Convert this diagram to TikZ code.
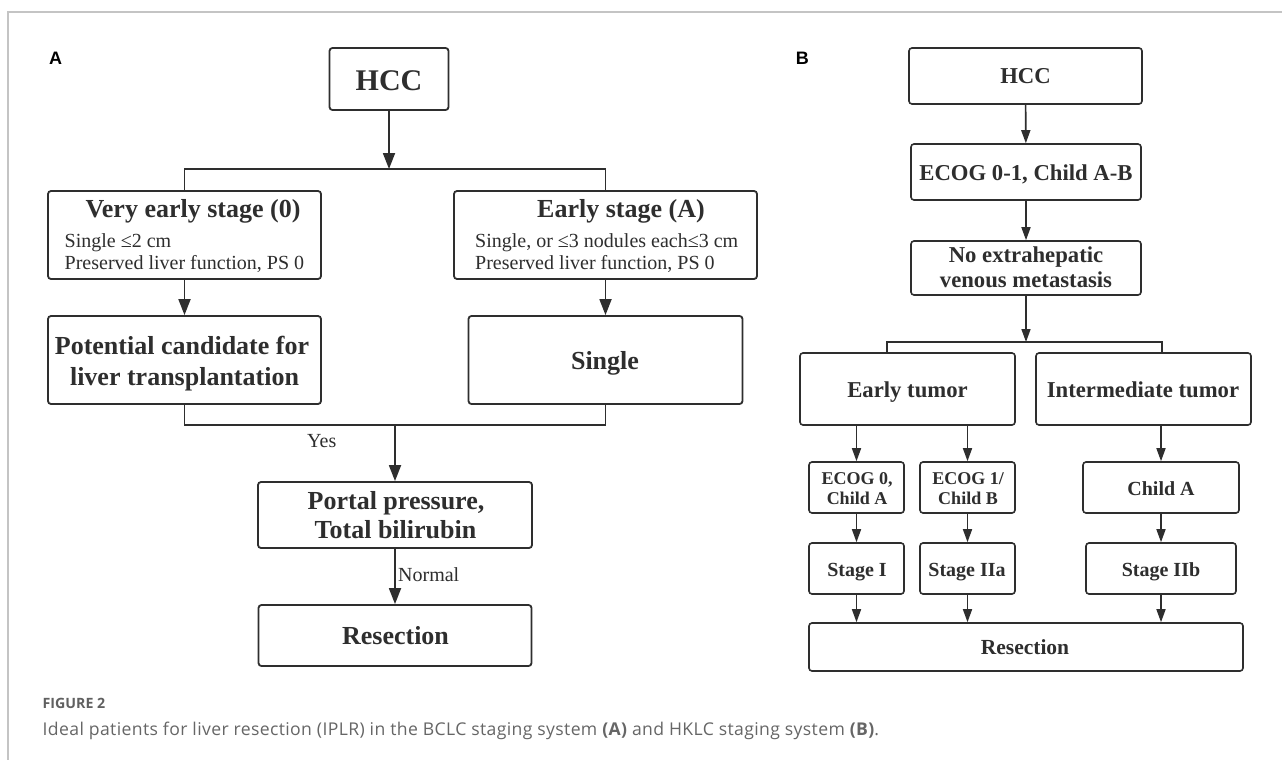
\documentclass[tikz,border=0pt]{standalone}
\usepackage{fontspec}
\setmainfont{Liberation Serif}
\newfontfamily\capfont[LetterSpace=2.1]{Open Sans}
\newfontfamily\figfont{Open Sans}
\newfontfamily\labfont{Liberation Sans}
\usetikzlibrary{arrows.meta}
\definecolor{ink}{HTML}{2E2E2E}
\definecolor{framegray}{HTML}{C4C4C4}
\definecolor{capgray}{HTML}{666666}
\definecolor{figgray}{HTML}{606060}
\begin{document}
\begin{tikzpicture}[x=1pt,y=-1pt,
  boxA/.style={draw=ink, line width=1.8pt, rounded corners=3pt, inner sep=0pt},
  boxB/.style={draw=ink, line width=1.6pt, rounded corners=3pt, inner sep=0pt},
  lnA/.style={draw=ink, line width=1.8pt},
  lnB/.style={draw=ink, line width=1.6pt},
  arrA/.style={lnA, -{Triangle[length=16pt,width=12pt]}},
  arrB/.style={lnB, -{Triangle[length=13pt,width=9pt]}},
  txt/.style={text=ink, inner sep=0pt, anchor=base},
  txtw/.style={text=ink, inner sep=0pt, anchor=base west},
  fA/.style={font=\fontsize{26}{31}\selectfont\bfseries},
  fAh/.style={font=\fontsize{30}{36}\selectfont\bfseries},
  fAs/.style={font=\fontsize{20}{24}\selectfont},
  fB/.style={font=\fontsize{22.7}{27}\selectfont\bfseries},
  fBs/.style={font=\fontsize{18}{22}\selectfont\bfseries},
  fBm/.style={font=\fontsize{20}{24}\selectfont\bfseries},
  panel/.style={inner sep=0pt, anchor=base west, font=\labfont\fontsize{18}{20}\selectfont\bfseries, text=black}
]
\useasboundingbox (0,0) rectangle (1282,760);
\fill[white] (0,0) rectangle (1282,760);
\draw[framegray, line width=1.5pt] (1282,12) -- (8,12) -- (8,760);

% ---------------- Panel A ----------------
\node[panel] (labA) at (49,65) {A};
\node[boxA, minimum width=119pt, minimum height=62pt] (hccA) at (389,79) {};
\node[boxA, minimum width=273pt, minimum height=88pt] (ves) at (184.5,235) {};
\node[boxA, minimum width=303pt, minimum height=88pt] (es) at (605.5,235) {};
\node[boxA, minimum width=273pt, minimum height=88pt] (pot) at (184.5,360) {};
\node[boxA, minimum width=274pt, minimum height=88pt] (sgl) at (605.5,360) {};
\node[boxA, minimum width=274pt, minimum height=66pt] (por) at (395,515) {};
\node[boxA, minimum width=273pt, minimum height=61pt] (resA) at (395,635.5) {};

\node[txt, fAh] (hccAt) at (389,90) {HCC};
\node[txt, fA] (vest) at (193,217) {Very early stage (0)};
\node[txtw, fAs] (ves1) at (64.5,247) {Single ≤2 cm};
\node[txtw, fAs] (ves2) at (64.5,269) {Preserved liver function, PS 0};
\node[txt, fA] (est) at (621,217) {Early stage (A)};
\node[txtw, fAs] (es1) at (475,247) {Single, or ≤3 nodules each≤3 cm};
\node[txtw, fAs] (es2) at (475,269) {Preserved liver function, PS 0};
\node[txt, fA] (pot1) at (182,354) {Potential candidate for};
\node[txt, fA] (pot2) at (184.5,385) {liver transplantation};
\node[txt, fA] (sglt) at (605,369) {Single};
\node[txt, fA] (por1) at (396,509) {Portal pressure,};
\node[txt, fA] (por2) at (395.5,538) {Total bilirubin};
\node[txt, fA] (resAt) at (395.5,644) {Resection};
\node[txtw, fAs] (yes) at (307,447) {Yes};
\node[txtw, fAs] (normal) at (398,581) {Normal};

\coordinate (jA) at (389,169);
\coordinate (jA2) at (395,425);
\draw[arrA] (hccA) -- (jA);
\draw[lnA] (ves.north) |- (jA) -| (es.north);
\draw[arrA] (ves) -- (pot);
\draw[arrA] (es) -- (sgl);
\draw[lnA] (pot.south) |- (jA2) -| (sgl.south);
\draw[arrA] (jA2) -- (por);
\draw[arrA] (por) -- (resA);

% ---------------- Panel B ----------------
\node[panel] (labB) at (795.6,65) {B};
\node[boxB, minimum width=233pt, minimum height=56pt] (hccB) at (1025.5,76) {};
\node[boxB, minimum width=230pt, minimum height=56pt] (ecog) at (1026,172) {};
\node[boxB, minimum width=230pt, minimum height=54pt] (noext) at (1026,268) {};
\node[boxB, minimum width=215pt, minimum height=72pt] (et) at (907.5,389) {};
\node[boxB, minimum width=215pt, minimum height=72pt] (it) at (1143.5,389) {};
\node[boxB, minimum width=95pt, minimum height=51pt] (e0) at (856.5,487.5) {};
\node[boxB, minimum width=95pt, minimum height=51pt] (e1) at (967.5,487.5) {};
\node[boxB, minimum width=156pt, minimum height=51pt] (ca) at (1161,487.5) {};
\node[boxB, minimum width=95pt, minimum height=51pt] (s1) at (856.5,568.5) {};
\node[boxB, minimum width=95pt, minimum height=51pt] (s2a) at (967.5,568.5) {};
\node[boxB, minimum width=150pt, minimum height=51pt] (s2b) at (1161,568.5) {};
\node[boxB, minimum width=434pt, minimum height=48pt] (resB) at (1026,647) {};

\node[txt, fB] (hccBt) at (1025.5,84) {HCC};
\node[txt, fB] (ecogt) at (1026,180) {ECOG 0-1, Child A-B};
\node[txt, fB] (noext1) at (1026,262) {No extrahepatic};
\node[txt, fB] (noext2) at (1026,287) {venous metastasis};
\node[txt, fB] (ett) at (907.5,397) {Early tumor};
\node[txt, fB] (itt) at (1143,397) {Intermediate tumor};
\node[txt, fBs] (e0a) at (857,484) {ECOG 0,};
\node[txt, fBs] (e0b) at (857,504.5) {Child A};
\node[txt, fBs] (e1a) at (968,484) {ECOG 1/};
\node[txt, fBs] (e1b) at (968,504.5) {Child B};
\node[txt, fBm] (cat) at (1161,495) {Child A};
\node[txt, fBm] (s1t) at (857,576) {Stage I};
\node[txt, fBm] (s2at) at (967,576) {Stage IIa};
\node[txt, fBm] (s2bt) at (1161,576) {Stage IIb};
\node[txt, font=\fontsize{21.5}{26}\selectfont\bfseries] (resBt) at (1025,654) {Resection};

\coordinate (jB) at (1026,342);
\coordinate (bl) at (887,353);
\coordinate (br) at (1162,353);
\draw[arrB] (hccB) -- (ecog);
\draw[arrB] (ecog) -- (noext);
\draw[arrB] (noext) -- (jB);
\draw[lnB] (bl) |- (jB) -| (br);
\draw[arrB] (et.south -| e0.north) -- (e0.north);
\draw[arrB] (et.south -| e1.north) -- (e1.north);
\draw[arrB] (it.south -| ca.north) -- (ca.north);
\draw[arrB] (e0) -- (s1);
\draw[arrB] (e1) -- (s2a);
\draw[arrB] (ca) -- (s2b);
\draw[arrB] (s1.south) -- (s1.south |- resB.north);
\draw[arrB] (s2a.south) -- (s2a.south |- resB.north);
\draw[arrB] (s2b.south) -- (s2b.south |- resB.north);

% ---------------- Caption ----------------
\node[inner sep=0pt, anchor=base west, text=figgray, font=\figfont\fontsize{14.2}{17}\selectfont\bfseries] (figlab) at (42.5,708) {FIGURE 2};
\node[inner sep=0pt, anchor=base west, text=capgray, font=\capfont\fontsize{17.6}{21}\selectfont] (caption) at (42.5,735) {Ideal patients for liver resection (IPLR) in the BCLC staging system {\bfseries (A)} and HKLC staging system {\bfseries (B)}.};
\end{tikzpicture}
\end{document}
